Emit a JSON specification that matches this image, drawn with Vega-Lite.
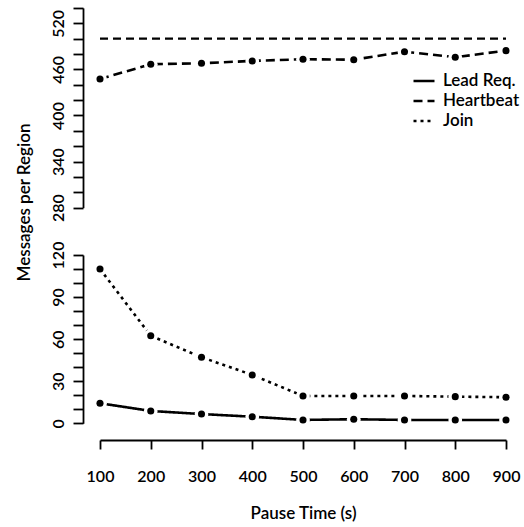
{
  "$schema": "https://vega.github.io/schema/vega-lite/v6.json",
  "width": 441,
  "height": 440,
  "autosize": {"type": "none"},
  "padding": {"left": 83, "top": 0, "right": 0, "bottom": 87},
  "background": "white",
  "config": {
    "font": "Lato",
    "view": {"stroke": null},
    "axis": {
      "grid": false,
      "domainColor": "black",
      "tickColor": "black",
      "labelColor": "black",
      "titleColor": "black",
      "domainWidth": 1.8,
      "tickWidth": 1.8,
      "labelFontSize": 16,
      "labelFontWeight": 600,
      "titleFontSize": 17,
      "titleFontWeight": 600,
      "labelFlush": false,
      "labelOverlap": false
    },
    "legend": {
      "labelFontSize": 17,
      "labelFontWeight": 600,
      "labelColor": "black",
      "padding": 0
    }
  },
  "datasets": {
    "top": [
      {"pause": 100, "msgs": 447.5, "series": "Heartbeat"},
      {"pause": 200, "msgs": 466.7, "series": "Heartbeat"},
      {"pause": 300, "msgs": 468, "series": "Heartbeat"},
      {"pause": 400, "msgs": 471, "series": "Heartbeat"},
      {"pause": 500, "msgs": 473.2, "series": "Heartbeat"},
      {"pause": 600, "msgs": 472.6, "series": "Heartbeat"},
      {"pause": 700, "msgs": 483, "series": "Heartbeat"},
      {"pause": 800, "msgs": 475.8, "series": "Heartbeat"},
      {"pause": 900, "msgs": 484.4, "series": "Heartbeat"}
    ],
    "ref": [
      {"pause": 100, "msgs": 500},
      {"pause": 900, "msgs": 500}
    ],
    "bottom": [
      {"pause": 100, "msgs": 14.3, "series": "Lead Req."},
      {"pause": 200, "msgs": 8.8, "series": "Lead Req."},
      {"pause": 300, "msgs": 6.6, "series": "Lead Req."},
      {"pause": 400, "msgs": 4.7, "series": "Lead Req."},
      {"pause": 500, "msgs": 2.4, "series": "Lead Req."},
      {"pause": 600, "msgs": 2.9, "series": "Lead Req."},
      {"pause": 700, "msgs": 2.4, "series": "Lead Req."},
      {"pause": 800, "msgs": 2.4, "series": "Lead Req."},
      {"pause": 900, "msgs": 2.4, "series": "Lead Req."},
      {"pause": 100, "msgs": 110, "series": "Join"},
      {"pause": 200, "msgs": 62.4, "series": "Join"},
      {"pause": 300, "msgs": 47.1, "series": "Join"},
      {"pause": 400, "msgs": 34.5, "series": "Join"},
      {"pause": 500, "msgs": 19.5, "series": "Join"},
      {"pause": 600, "msgs": 19.5, "series": "Join"},
      {"pause": 700, "msgs": 19.5, "series": "Join"},
      {"pause": 800, "msgs": 19, "series": "Join"},
      {"pause": 900, "msgs": 18.6, "series": "Join"}
    ]
  },
  "encoding": {
    "x": {
      "field": "pause",
      "type": "quantitative",
      "scale": {"domain": [100, 900], "range": [17, 423], "nice": false, "zero": false},
      "axis": {
        "values": [100, 200, 300, 400, 500, 600, 700, 800, 900],
        "tickSize": 9,
        "labelPadding": 19,
        "title": "Pause Time (s)",
        "titleX": 220,
        "titleY": 78,
        "titleAlign": "center",
        "titleBaseline": "alphabetic",
        "titleAnchor": null
      }
    }
  },
  "layer": [
    {
      "encoding": {
        "y": {
          "field": "msgs",
          "type": "quantitative",
          "scale": {"domain": [280, 540], "range": [207.7, 7.9], "nice": false, "zero": false},
          "axis": {
            "orient": "left",
            "values": [280, 300, 320, 340, 360, 380, 400, 420, 440, 460, 480, 500, 520, 540],
            "labelExpr": "(datum.value - 280) % 60 === 0 ? datum.label : ''",
            "tickSize": 10,
            "labelAngle": -90,
            "labelAlign": "center",
            "labelBaseline": "alphabetic",
            "labelPadding": 10,
            "title": null
          }
        }
      },
      "layer": [
        {
          "data": {"name": "ref"},
          "mark": {"type": "line", "color": "black", "strokeWidth": 2.4, "strokeDash": [8, 5]},
          "encoding": {}
        },
        {
          "data": {"name": "top"},
          "mark": {"type": "line", "color": "black", "strokeWidth": 2.6},
          "encoding": {
            "strokeDash": {
              "field": "series",
              "type": "nominal",
              "scale": {"domain": ["Lead Req.", "Heartbeat", "Join"], "range": [[1, 0], [9, 5], [3, 4]]},
              "legend": {
                "title": null,
                "orient": "none",
                "legendX": 329,
                "legendY": 69,
                "symbolType": "stroke",
                "symbolSize": 441,
                "symbolStrokeWidth": 2.6,
                "symbolStrokeColor": "black",
                "labelOffset": 7,
                "rowPadding": -1.5
              }
            }
          }
        },
        {
          "data": {"name": "top"},
          "mark": {"type": "circle", "color": "white", "size": 190, "opacity": 1},
          "encoding": {}
        },
        {
          "data": {"name": "top"},
          "mark": {"type": "circle", "color": "black", "size": 50, "opacity": 1},
          "encoding": {}
        }
      ]
    },
    {
      "data": {"name": "bottom"},
      "encoding": {
        "y": {
          "field": "msgs",
          "type": "quantitative",
          "scale": {"domain": [0, 120], "range": [423.3, 255], "nice": false, "zero": false},
          "axis": {
            "orient": "left",
            "values": [0, 10, 20, 30, 40, 50, 60, 70, 80, 90, 100, 110, 120],
            "labelExpr": "datum.value % 30 === 0 ? datum.label : ''",
            "tickSize": 10,
            "labelAngle": -90,
            "labelAlign": "center",
            "labelBaseline": "alphabetic",
            "labelPadding": 10,
            "title": "Messages per Region",
            "titleAngle": -90,
            "titleX": -54,
            "titleY": 202,
            "titleAlign": "center",
            "titleBaseline": "alphabetic",
            "titleAnchor": null
          }
        }
      },
      "layer": [
        {
          "mark": {"type": "line", "color": "black", "strokeWidth": 2.6},
          "encoding": {
            "strokeDash": {"field": "series", "type": "nominal"}
          }
        },
        {
          "mark": {"type": "circle", "color": "white", "size": 190, "opacity": 1},
          "encoding": {"detail": {"field": "series", "type": "nominal"}}
        },
        {
          "mark": {"type": "circle", "color": "black", "size": 50, "opacity": 1},
          "encoding": {"detail": {"field": "series", "type": "nominal"}}
        }
      ]
    }
  ],
  "resolve": {"scale": {"y": "independent"}, "axis": {"y": "independent"}}
}
